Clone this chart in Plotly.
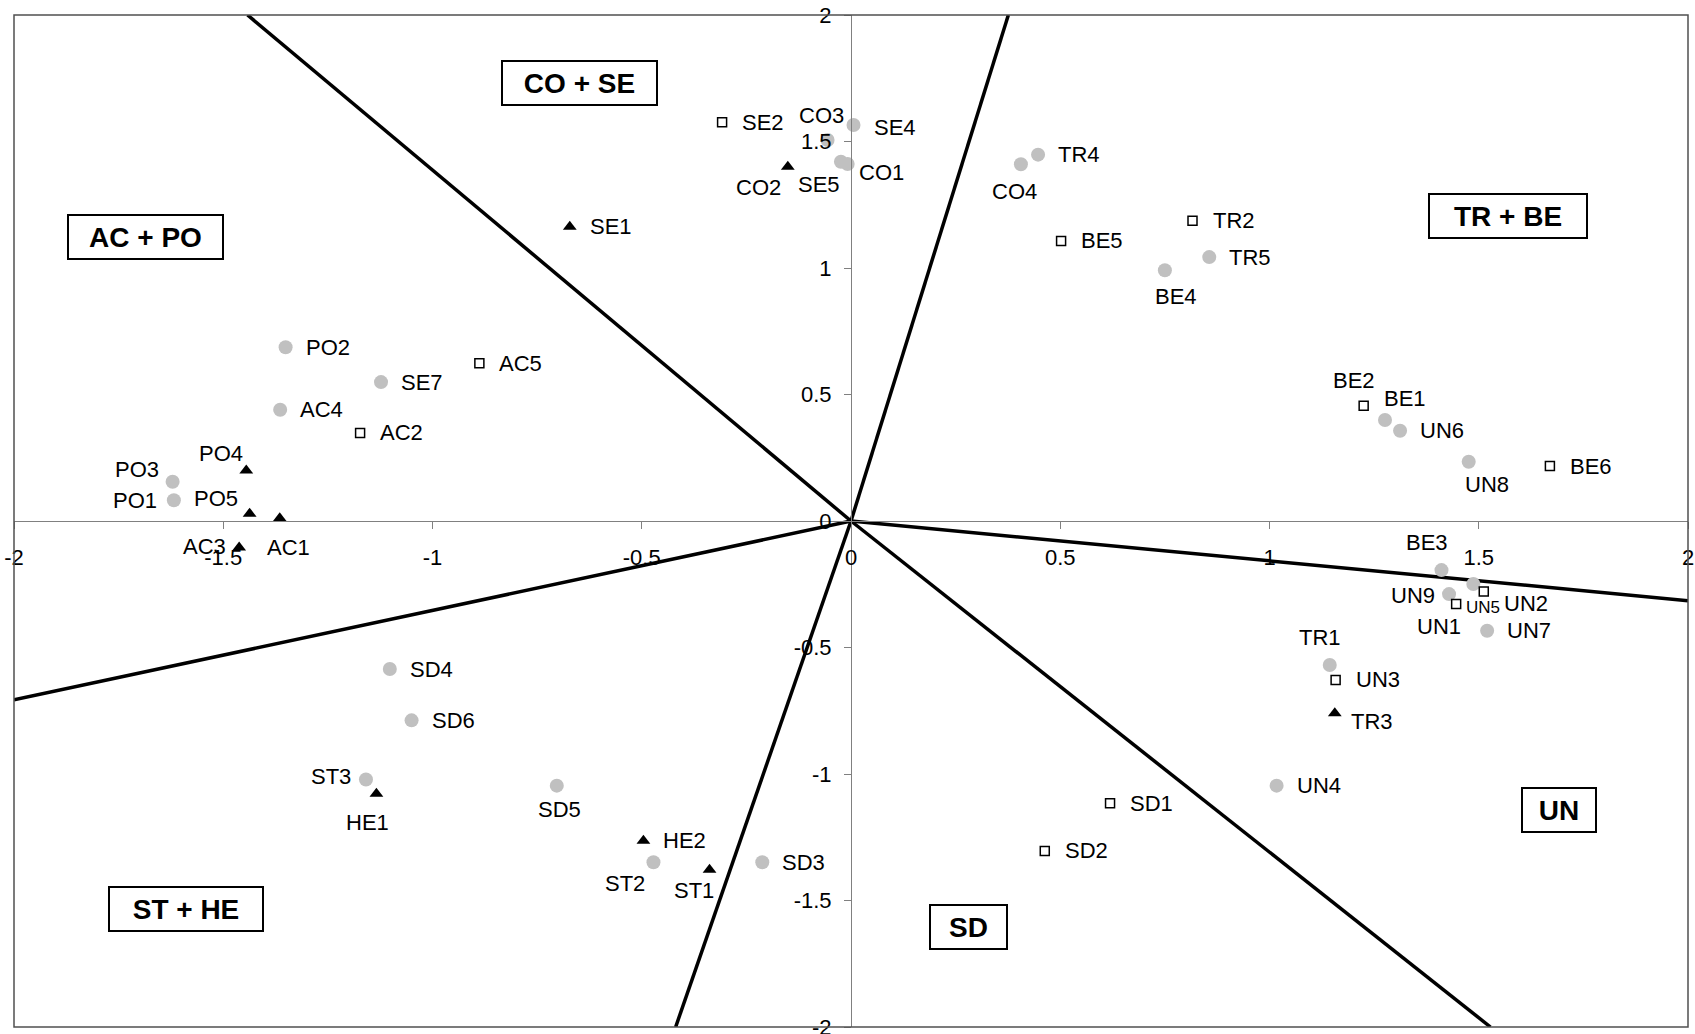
import plotly.graph_objects as go

# ---------------- data ----------------
circle_labels = ["SE4", "CO3", "SE5", "CO1", "TR4", "CO4", "TR5", "BE4", "BE1", "UN6",
                 "UN8", "BE3", "UN5", "UN9", "UN7", "TR1", "UN4", "PO2", "SE7", "AC4",
                 "PO3", "PO1", "SD4", "SD6", "ST3", "SD5", "ST2", "SD3"]
circle_x = [0.006, -0.056, -0.024, -0.008, 0.447, 0.406, 0.856, 0.750, 1.276, 1.312,
            1.476, 1.411, 1.487, 1.429, 1.520, 1.144, 1.017, -1.351, -1.123, -1.364,
            -1.621, -1.618, -1.102, -1.050, -1.159, -0.703, -0.472, -0.212]
circle_y = [1.565, 1.506, 1.420, 1.411, 1.448, 1.410, 1.043, 0.991, 0.399, 0.357,
            0.234, -0.194, -0.249, -0.289, -0.434, -0.569, -1.046, 0.687, 0.549, 0.440,
            0.155, 0.082, -0.585, -0.788, -1.022, -1.046, -1.349, -1.349]

square_labels = ["SE2", "AC5", "AC2", "BE5", "TR2", "BE2", "BE6", "UN1", "UN2", "UN3", "SD1", "SD2"]
square_x = [-0.308, -0.888, -1.173, 0.502, 0.816, 1.225, 1.670, 1.446, 1.512, 1.158, 0.619, 0.463]
square_y = [1.576, 0.624, 0.348, 1.107, 1.187, 0.456, 0.217, -0.328, -0.279, -0.628, -1.116, -1.304]

triangle_labels = ["CO2", "SE1", "PO4", "PO5", "AC1", "AC3", "HE1", "HE2", "ST1", "TR3"]
triangle_x = [-0.151, -0.672, -1.445, -1.437, -1.365, -1.462, -1.134, -0.496, -0.338, 1.156]
triangle_y = [1.400, 1.163, 0.200, 0.029, 0.011, -0.105, -1.078, -1.264, -1.378, -0.760]

# boundaries: rays from the origin to the frame
boundary_x_end = [-1.442, 0.376, 2.0, 1.528, -0.419, -2.0]
boundary_y_end = [2.0, 2.0, -0.315, -2.0, -2.0, -0.707]

region_names = ["AC + PO", "CO + SE", "TR + BE", "ST + HE", "UN", "SD"]

tick_values = [-2, -1.5, -1, -0.5, 0, 0.5, 1, 1.5, 2]
tick_text = ["-2", "-1.5", "-1", "-0.5", "0", "0.5", "1", "1.5", "2"]

# ---------------- layout helpers (positions / styles) ----------------
FONT = "Liberation Sans, Arial, sans-serif"
region_pos = {
    "AC + PO": (-1.685, 1.124, 151),
    "CO + SE": (-0.649, 1.731, 151),
    "TR + BE": (1.569, 1.206, 154),
    "ST + HE": (-1.590, -1.534, 150),
    "UN": (1.691, -1.142, 70),
    "SD": (0.281, -1.603, 73),
}
# (dx, dy, anchor): pixel offset of label from marker; dy positive = downwards
label_offsets = {
    "CO3": (-6, -24, "c"), "SE5": (-22, 23, "c"), "CO2": (-29, 21, "c"),
    "CO1": (9, 8, "l"), "SE4": (18, 2, "l"), "CO4": (-6, 27, "c"),
    "BE4": (11, 26, "c"), "BE3": (-15, -28, "c"), "UN9": (-36, 1, "c"),
    "UN5": (10, 23, "c"), "UN1": (-17, 23, "c"), "UN2": (18, 12, "l"),
    "TR3": (14, 8, "l"), "PO3": (-36, -12, "c"), "PO1": (-39, 0, "c"),
    "PO4": (-25, -17, "c"), "PO5": (-34, -15, "c"), "AC3": (-35, -1, "c"),
    "AC1": (9, 29, "c"), "BE1": (20, -22, "c"), "BE2": (-10, -25, "c"),
    "UN8": (18, 23, "c"), "TR1": (-10, -27, "c"), "ST3": (-35, -3, "c"),
    "HE1": (-9, 29, "c"), "SD5": (3, 24, "c"), "ST2": (-28, 21, "c"),
    "ST1": (-16, 21, "c"),
}
small_labels = {"UN5": 17}

fig = go.Figure()

for xe, ye in zip(boundary_x_end, boundary_y_end):
    fig.add_trace(go.Scatter(x=[0, xe], y=[0, ye], mode="lines",
                             line=dict(color="black", width=3.5),
                             hoverinfo="skip", showlegend=False))

fig.add_trace(go.Scatter(x=circle_x, y=circle_y, mode="markers", text=circle_labels,
                         marker=dict(symbol="circle", size=14, color="#c0c0c0"),
                         showlegend=False))
fig.add_trace(go.Scatter(x=square_x, y=square_y, mode="markers", text=square_labels,
                         marker=dict(symbol="square", size=9, color="white",
                                     line=dict(color="black", width=1.5)),
                         showlegend=False))
fig.add_trace(go.Scatter(x=triangle_x, y=triangle_y, mode="markers", text=triangle_labels,
                         marker=dict(symbol="triangle-up", size=12, color="black"),
                         showlegend=False))

annotations = []
for labels, xs, ys in [(circle_labels, circle_x, circle_y),
                       (square_labels, square_x, square_y),
                       (triangle_labels, triangle_x, triangle_y)]:
    for lab, x, y in zip(labels, xs, ys):
        dx, dy, anc = label_offsets.get(lab, (18, 0, "l"))
        annotations.append(dict(
            x=x, y=y, xref="x", yref="y", text=lab, showarrow=False,
            xanchor="left" if anc == "l" else "center", yanchor="middle",
            xshift=dx, yshift=-dy,
            font=dict(family=FONT, size=small_labels.get(lab, 22), color="black")))

for name in region_names:
    rx, ry, w = region_pos[name]
    annotations.append(dict(
        x=rx, y=ry, xref="x", yref="y", text="<b>%s</b>" % name, showarrow=False,
        xanchor="center", yanchor="middle", width=w, height=40,
        bordercolor="black", borderwidth=2, borderpad=1, bgcolor="white",
        font=dict(family=FONT, size=28, color="black")))

axis_common = dict(
    range=[-2, 2], anchor="free", position=0.5, showline=True,
    linecolor="#808080", linewidth=1, ticks="outside", ticklen=7,
    tickcolor="#808080", tickwidth=1, tickmode="array",
    tickvals=tick_values, ticktext=tick_text, showgrid=False, zeroline=False,
    tickfont=dict(family=FONT, size=22, color="black"),
    ticklabeloverflow="allow",
)

fig.update_layout(
    width=1695, height=1034,
    margin=dict(l=14, r=7, t=15, b=7, autoexpand=False),
    paper_bgcolor="white", plot_bgcolor="white",
    xaxis=dict(axis_common, ticklabelstandoff=10),
    yaxis=dict(axis_common, ticklabelstandoff=8),
    annotations=annotations,
    shapes=[dict(type="rect", xref="paper", yref="paper", x0=0, x1=1, y0=0, y1=1,
                 line=dict(color="#505050", width=1.5), layer="above")],
    font=dict(family=FONT),
    showlegend=False,
)

fig.write_html("out.html", config={"displayModeBar": False},
               post_script="document.body.style.margin='0';document.body.style.overflow='hidden';")
